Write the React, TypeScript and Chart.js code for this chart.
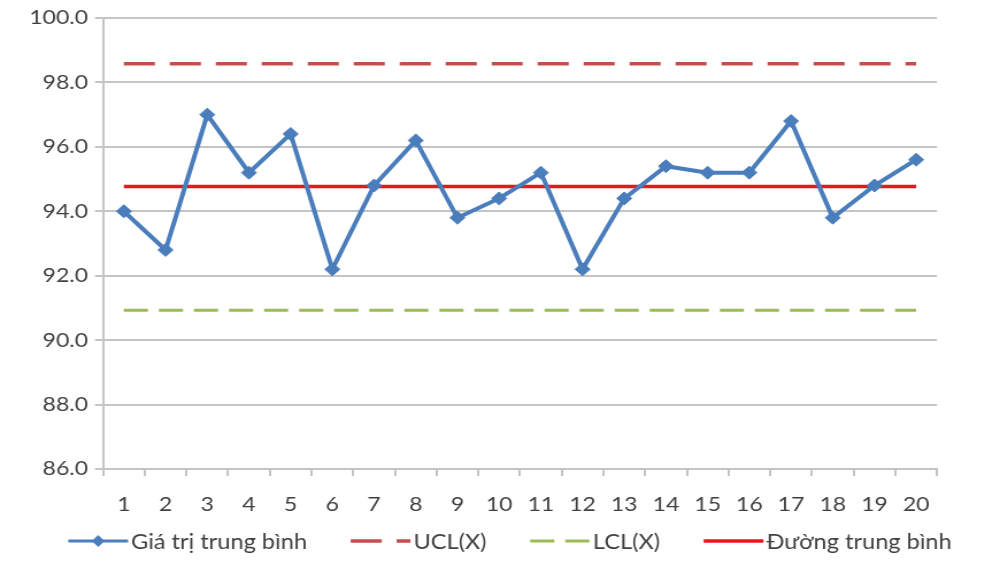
import React, { useEffect, useRef } from "react";
import { Chart, registerables } from "chart.js";

Chart.register(...registerables);

const categories = ["1","2","3","4","5","6","7","8","9","10","11","12","13","14","15","16","17","18","19","20"];
const averageValues = [94.0, 92.8, 97.0, 95.2, 96.4, 92.2, 94.8, 96.2, 93.8, 94.4, 95.2, 92.2, 94.4, 95.4, 95.2, 95.2, 96.8, 93.8, 94.8, 95.6];
const uclValue = 98.58;
const lclValue = 90.93;
const meanValue = 94.77;
const uclValues = categories.map(() => uclValue);
const lclValues = categories.map(() => lclValue);
const meanValues = categories.map(() => meanValue);
const seriesLabels = ["Giá trị trung bình", "UCL(X)", "LCL(X)", "Đường trung bình"];
const yMin = 86;
const yMax = 100;
const yStep = 2;

// The reference is horizontally stretched; the canvas is drawn narrower and stretched to 1000px.
const INNER_W = 870;
const STRETCH = 1000 / INNER_W;

const FONT = "Lato";
const TEXT = "#404040";
const BLUE = "#4a7dbb";
const UCL_C = "#bf504d";
const LCL_C = "#9bbb59";
const MEAN_C = "#e5171f";
const GRID = "#c4c4c4";

const legendPlugin = {
  id: "customLegend",
  afterDraw(chart: any) {
    const ctx = chart.ctx as CanvasRenderingContext2D;
    ctx.save();
    ctx.font = `20.5px ${FONT}`;
    ctx.textBaseline = "middle";
    ctx.textAlign = "left";
    const y = 541;
    const symW = 52;
    const gapSym = 2.6;
    const gapItem = 38;
    const widths = seriesLabels.map((l) => ctx.measureText(l).width);
    const total = widths.reduce((a, w) => a + symW + gapSym + w, 0) + gapItem * (seriesLabels.length - 1);
    let x = 510 / STRETCH - total / 2;
    seriesLabels.forEach((label, i) => {
      ctx.save();
      ctx.beginPath();
      if (i === 0) {
        ctx.strokeStyle = BLUE;
        ctx.lineWidth = 3;
        ctx.moveTo(x, y);
        ctx.lineTo(x + symW, y);
        ctx.stroke();
        ctx.fillStyle = BLUE;
        ctx.beginPath();
        const cx = x + symW / 2;
        ctx.moveTo(cx, y - 6);
        ctx.lineTo(cx + 5.5, y);
        ctx.lineTo(cx, y + 6);
        ctx.lineTo(cx - 5.5, y);
        ctx.closePath();
        ctx.fill();
      } else if (i === 1) {
        ctx.strokeStyle = UCL_C;
        ctx.lineWidth = 3.5;
        ctx.setLineDash([27, 13]);
        ctx.moveTo(x, y);
        ctx.lineTo(x + symW, y);
        ctx.stroke();
      } else if (i === 2) {
        ctx.strokeStyle = LCL_C;
        ctx.lineWidth = 3;
        ctx.setLineDash([21, 9.5]);
        ctx.moveTo(x, y);
        ctx.lineTo(x + symW, y);
        ctx.stroke();
      } else {
        ctx.strokeStyle = MEAN_C;
        ctx.lineWidth = 3.5;
        ctx.moveTo(x, y);
        ctx.lineTo(x + symW, y);
        ctx.stroke();
      }
      ctx.restore();
      ctx.fillStyle = TEXT;
      ctx.fillText(label, x + symW + gapSym, y + 1);
      x += symW + gapSym + widths[i] + gapItem;
    });
    ctx.restore();
  },
};

export default function App() {
  const ref = useRef<HTMLCanvasElement | null>(null);
  useEffect(() => {
    if (!ref.current) return;
    const chart = new Chart(ref.current, {
      type: "line",
      data: {
        labels: categories,
        datasets: [
          {
            label: seriesLabels[0],
            data: averageValues,
            borderColor: BLUE,
            backgroundColor: BLUE,
            borderWidth: 4,
            pointStyle: "rectRot",
            pointRadius: 6.5,
            pointBackgroundColor: BLUE,
            pointBorderColor: BLUE,
            pointBorderWidth: 1,
            tension: 0,
          },
          {
            label: seriesLabels[1],
            data: uclValues,
            borderColor: UCL_C,
            borderWidth: 3.5,
            borderDash: [27, 13],
            pointRadius: 0,
          },
          {
            label: seriesLabels[2],
            data: lclValues,
            borderColor: LCL_C,
            borderWidth: 3,
            borderDash: [21, 9.5],
            pointRadius: 0,
          },
          {
            label: seriesLabels[3],
            data: meanValues,
            borderColor: MEAN_C,
            borderWidth: 3.5,
            pointRadius: 0,
          },
        ],
      },
      options: {
        responsive: false,
        animation: false,
        devicePixelRatio: 1,
        layout: { padding: { top: 17, right: 63 / STRETCH, left: 0, bottom: 0 } },
        plugins: {
          legend: { display: false },
          tooltip: { enabled: false },
          title: { display: false },
        },
        scales: {
          x: {
            type: "category",
            offset: true,
            grid: {
              offset: true,
              drawOnChartArea: false,
              drawTicks: true,
              tickLength: 7,
              color: GRID,
              lineWidth: 2,
            },
            border: { color: GRID, width: 2 },
            ticks: {
              color: TEXT,
              font: { family: FONT, size: 20 },
              padding: 17,
              maxRotation: 0,
            },
            afterFit: (s: any) => {
              s.height = 93;
            },
          },
          y: {
            min: yMin,
            max: yMax,
            grid: {
              color: GRID,
              lineWidth: 2,
              tickLength: 7,
            },
            border: { color: GRID, width: 2 },
            ticks: {
              stepSize: yStep,
              color: TEXT,
              font: { family: FONT, size: 20 },
              padding: 6,
              callback: (v: any) => Number(v).toFixed(1),
            },
            afterFit: (s: any) => {
              s.width = 103 / STRETCH;
            },
          },
        },
      },
      plugins: [legendPlugin],
    });
    return () => chart.destroy();
  }, []);
  return (
    <div style={{ position: "absolute", left: 0, top: 0, width: 1000, height: 562, overflow: "hidden", background: "#fff" }}>
      <div style={{ width: INNER_W, height: 562, transform: `scaleX(${STRETCH})`, transformOrigin: "0 0" }}>
        <canvas ref={ref} width={INNER_W} height={562} style={{ width: INNER_W, height: 562, display: "block" }} />
      </div>
    </div>
  );
}
